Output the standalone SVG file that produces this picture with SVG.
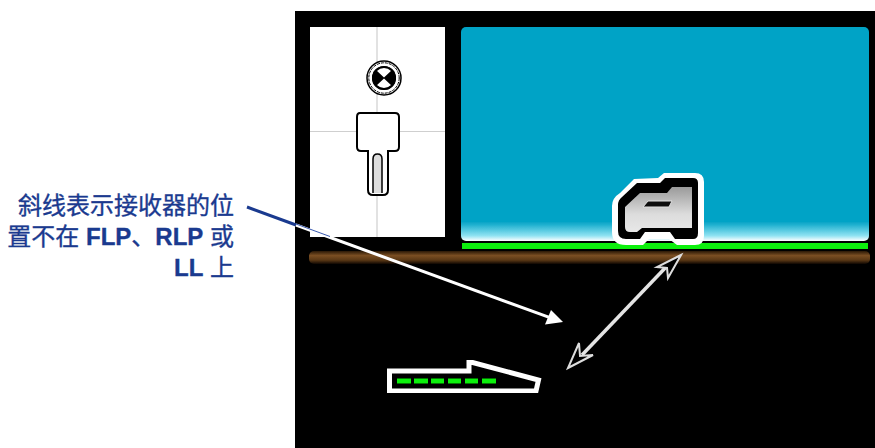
<svg xmlns="http://www.w3.org/2000/svg" width="875" height="448" viewBox="0 0 875 448">
<defs>
<linearGradient id="sky" x1="0" y1="0" x2="0" y2="1"><stop offset="0" stop-color="#00a3c6"/><stop offset="0.91" stop-color="#00a3c6"/><stop offset="0.975" stop-color="#8fe2f2"/><stop offset="1" stop-color="#ffffff"/></linearGradient>
<linearGradient id="ground" x1="0" y1="0" x2="0" y2="1"><stop offset="0" stop-color="#2a1806"/><stop offset="0.35" stop-color="#7a4e22"/><stop offset="0.7" stop-color="#5a3815"/><stop offset="1" stop-color="#0e0702"/></linearGradient>
<linearGradient id="body" x1="0" y1="0" x2="0" y2="1"><stop offset="0" stop-color="#9a9a9a"/><stop offset="0.6" stop-color="#dcdcdc"/><stop offset="1" stop-color="#e8e8e8"/></linearGradient>
<filter id="soft" x="-5%" y="-5%" width="110%" height="110%"><feGaussianBlur stdDeviation="0.7"/></filter>
</defs>
<style>
.lab{font-family:"Liberation Sans","Noto Sans CJK SC",sans-serif;font-size:24px;fill:#1a3a8f;stroke:#1a3a8f;stroke-width:0.35;text-anchor:end}
.lat{font-weight:bold}
.cross{stroke:#cfcfcf;stroke-width:1.2;fill:none}
.ol{fill:#fff;stroke:#000;stroke-width:2}
</style>
<rect x="295" y="11" width="580" height="437" fill="#000"/>
<g id="attitude-panel" filter="url(#soft)">
<rect x="310" y="27" width="135" height="210" fill="#fff"/>
<path class="cross" d="M377 27V237M310 131.500H445"/>
<circle cx="384" cy="78" r="17" fill="#fff" stroke="#000" stroke-width="1.500"/>
<circle cx="384" cy="78" r="15.200" fill="none" stroke="#000" stroke-width="1" stroke-dasharray="3 1"/>
<circle cx="384" cy="78" r="12" fill="#000"/>
<path d="M376 70A11 11 0 0 1 392 70L384 77.500ZM376 86A11 11 0 0 0 392 86L384 78.500Z" fill="#fff"/>
<circle cx="384" cy="78" r="11" fill="none" stroke="#000" stroke-width="2"/>
<path class="ol" d="M360 113H395Q399 113 399 117V147Q399 151 395 151H388V190Q388 195 383 195H373Q368 195 368 190V151H361Q357 151 357 147V117Q357 113 360 113Z"/>
<path d="M373 193V159Q373 154 377.500 154Q382 154 382 159V193" fill="#ddd" stroke="#000" stroke-width="1.500"/>
</g>
<g id="view-panel" filter="url(#soft)">
<rect x="461" y="27" width="408" height="214" rx="5" fill="url(#sky)"/>
<rect x="462" y="243" width="406" height="6" fill="#0cf00c"/>
</g>
<rect id="ground-strip" x="309" y="251" width="561" height="13" rx="5" fill="url(#ground)"/>
<g id="receiver" filter="url(#soft)">
<path d="M634 179L658 178 664 173H695Q704 173 704 182V236Q704 245 695 245H677L669 239H649L643 245H626Q612 245 612 232V206Q612 198 620 193Z" fill="#fff"/>
<path d="M637 183H660L665 178H693Q698 178 698 183V233Q698 239 693 239H675L670 232H645L640 239H626Q618 239 618 231V205Q618 200 622 197Z" fill="#000"/>
<path d="M640 193H667L672 187H692V228H642L637 232H630Q625 232 625 227V207Z" fill="url(#body)"/>
<path d="M648 201H672L669 207H643Z" fill="#111" stroke="#e0e0e0" stroke-width="1"/>
</g>
<g id="aircraft-symbol" filter="url(#soft)">
<path d="M389.500 371H469V361.500L538.500 380 536 391H389.500Z" fill="none" stroke="#fff" stroke-width="5"/>
<path d="M397 381h14M414 381h14M431 381h13M448 381h13M465 381h13M482 381h14" stroke="#0cf00c" stroke-width="5" fill="none"/>
</g>
<g id="connectors">
<path d="M247 207L296 225" stroke="#1a3a8f" stroke-width="3" fill="none"/>
<path d="M296 225L550 317.700" stroke="#fff" stroke-width="3" fill="none"/>
<path d="M296 224L330 236.500" stroke="#3a5aaf" stroke-width="1" fill="none"/>
<path d="M563 322L545 324.500 551 310Z" fill="#fff"/>
<path d="M582 355L668 265" stroke="#e4e4e4" stroke-width="3.500" fill="none" filter="url(#soft)"/>
<path d="M681 255L657 267 667 268 668 278ZM568 368L593 355 580 356 579 343Z" fill="#000" stroke="#ddd" stroke-width="2" filter="url(#soft)"/>
</g>
<g id="label">
<text class="lab" x="234" y="214">斜线表示接收器的位</text>
<text class="lab" x="234" y="245">置不在 <tspan class="lat">FLP</tspan>、<tspan class="lat">RLP</tspan> 或</text>
<text class="lab" x="234" y="276"><tspan class="lat">LL</tspan> 上</text>
</g>
</svg>
